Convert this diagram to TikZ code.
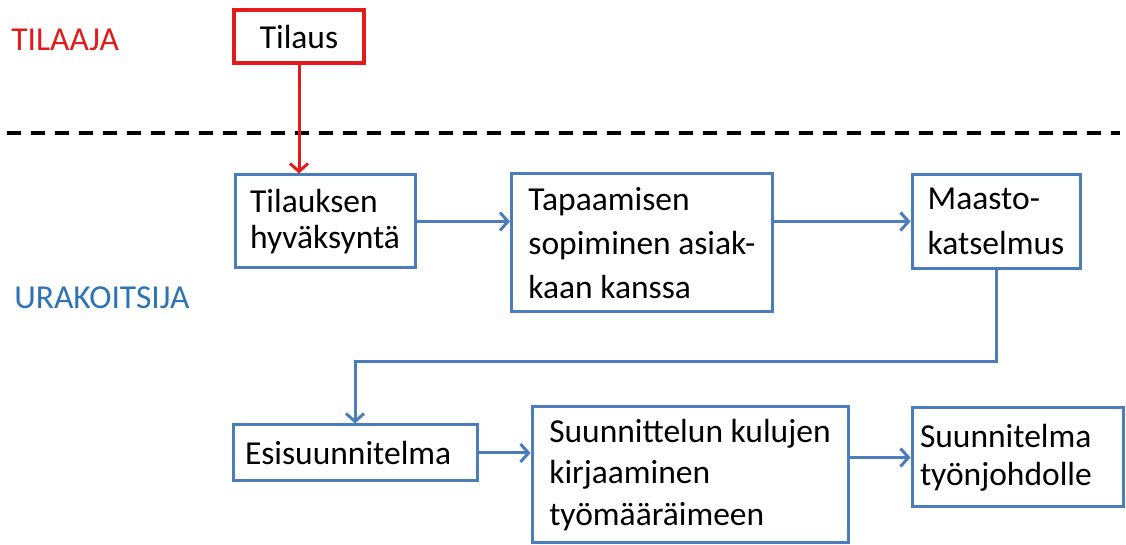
\documentclass[tikz,border=0pt]{standalone}
\usepackage{fontspec}
\setmainfont{Carlito}
\usetikzlibrary{arrows.meta}

\definecolor{flowblue}{HTML}{4A7DBA}
\definecolor{laneblue}{HTML}{2E74B5}
\definecolor{orderred}{HTML}{E41B1B}

\tikzset{
  % one pixel of the layout = 0.5pt, y grows downwards
  x=0.5pt, y=-0.5pt,
  stepbox/.style={draw=flowblue, line width=1.5pt, fill=white, align=left,
    inner sep=0pt, font=\fontsize{16.75pt}{#1}\selectfont},
  stepbox/.default={21.75pt},
  orderbox/.style={draw=orderred, line width=2pt, fill=white, align=left,
    inner sep=0pt, font=\fontsize{16.75pt}{21pt}\selectfont},
  flow/.style={draw=flowblue, line width=1.5pt,
    -{Straight Barb[length=4pt,width=9pt]}},
  orderflow/.style={draw=orderred, line width=1.5pt,
    -{Straight Barb[length=4pt,width=9pt]}},
  lane/.style={anchor=base west, inner sep=0pt, font=\fontsize{16.75pt}{21pt}\selectfont},
  divider/.style={draw=black, line width=2pt, dash pattern=on 7pt off 5pt},
}

\begin{document}
\begin{tikzpicture}
\useasboundingbox (0,0) rectangle (1126,545);

% swimlane labels and divider
\node[lane, text=orderred] (lab1) at (11,51) {TILAAJA};
\node[lane, text=laneblue] (lab2) at (14,309) {URAKOITSIJA};
\coordinate (divL) at (7,133);
\coordinate (divR) at (1120,133);
\draw[divider] (divL) -- (divR);

% customer step
\node[orderbox, minimum width=65pt, minimum height=26.5pt] (tilaus) at (299,37) {Tilaus};

% contractor steps
\node[stepbox={18.3pt}, minimum width=90pt, minimum height=46.5pt] (b1) at (325,221.5)
  {Tilauksen\\hyväksyntä};
\node[stepbox={22pt}, minimum width=130.5pt, minimum height=69pt] (b2) at (642,243)
  {Tapaamisen\\sopiminen asiak-\\kaan kanssa};
\node[stepbox={22.5pt}, minimum width=84pt, minimum height=47pt] (b3) at (996,221.5)
  {Maasto-\\katselmus};
\node[stepbox, inner xsep=6pt, text width=110pt, minimum height=28pt] (b4) at (355,453)
  {Esisuunnitelma};
\node[stepbox={20.75pt}, minimum width=158pt, minimum height=68pt] (b5) at (690,475)
  {Suunnittelun kulujen\\kirjaaminen\\työmääräimeen};
\node[stepbox={19pt}, inner xsep=4pt, text width=97.5pt, minimum height=49.5pt] (b6) at (1017.5,457.5)
  {Suunnitelma\\työnjohdolle};

% connectors
\draw[orderflow] (tilaus.south) -- (tilaus.south |- b1.north);
\draw[flow] (b1.east) -- (b1.east -| b2.west);
\draw[flow] (b2.east |- b3.west) -- (b3.west);
\coordinate (turn) at (996,362);
\draw[flow] (b3.south) -- (turn) -- (turn -| b4.north) -- (b4.north);
\draw[flow] (b4.east) -- (b4.east -| b5.west);
\draw[flow] (b6.west -| b5.east) -- (b6.west);
\end{tikzpicture}
\end{document}
